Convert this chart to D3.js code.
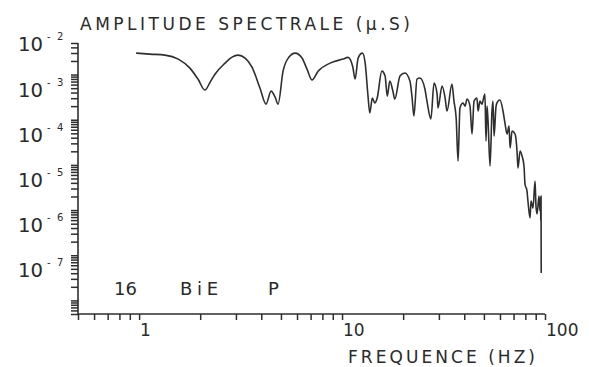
<!DOCTYPE html>
<html>
<head>
<meta charset="utf-8">
<script src="https://cdn.jsdelivr.net/npm/d3@7"></script>
<style>
  html, body { margin: 0; padding: 0; background: #fff; }
  svg { display: block; }
  text { font-family: "DejaVu Sans", sans-serif; fill: #2a2a2a; }
</style>
</head>
<body>
<svg id="chart" width="589" height="367"></svg>
<script>
// ---- data ----
const frequencyHz = [
  0.967, 1.13, 1.34, 1.56, 1.78, 1.95, 2.11, 2.24, 2.37, 2.65, 2.87, 3.07, 3.33, 3.60, 3.94,
  4.22, 4.47, 4.68, 4.84, 5.12, 5.48, 5.87, 6.35, 6.72, 7.11, 7.62, 8.73, 10.1, 10.7, 11.3,
  11.6, 12.0, 12.6, 13.0, 13.4, 13.7, 14.1, 14.5, 14.9, 15.7, 16.3, 16.7, 17.2, 17.8, 18.2,
  19.3, 20.4, 21.6, 22.1, 22.6, 23.4, 24.2, 25.6, 26.2, 27.4, 28.4, 29.4, 29.7, 31.1, 32.2,
  32.9, 34.8, 35.6, 36.5, 37.3, 38.1, 39.5, 40.4, 41.3, 42.7, 43.7, 44.7, 46.2, 46.8, 47.8,
  48.9, 50.1, 50.6, 51.2, 51.8, 52.4, 53.6, 54.8, 55.4, 56.1, 57.4, 58.7, 60.0, 62.1, 63.5,
  65.0, 66.5, 67.3, 68.8, 71.2, 72.8, 73.6, 75.4, 77.1, 78.8, 79.7, 81.5, 82.4, 84.4, 85.3,
  87.3, 89.3, 90.3, 91.4, 93.4, 94.5, 95.0, 95.3, 95.6, 95.8
];
const amplitude = [
  2.99e-3, 2.84e-3, 2.70e-3, 2.20e-3, 1.39e-3, 7.95e-4, 4.54e-4, 6.82e-4, 1.03e-3, 1.79e-3, 2.44e-3, 2.70e-3, 2.32e-3, 1.47e-3, 5.03e-4,
  2.22e-4, 4.31e-4, 3.18e-4, 2.22e-4, 1.19e-3, 2.44e-3, 2.99e-3, 2.32e-3, 1.32e-3, 7.56e-4, 1.19e-3, 1.79e-3, 2.20e-3, 2.40e-3, 1.47e-3,
  7.95e-4, 2.32e-3, 2.99e-3, 1.79e-3, 3.70e-4, 1.41e-4, 3.02e-4, 2.34e-4, 3.02e-4, 1.19e-3, 9.27e-4, 3.34e-4, 7.18e-4, 4.31e-4, 2.87e-4,
  9.27e-4, 1.08e-3, 7.18e-4, 3.34e-4, 1.21e-4, 7.95e-4, 8.37e-4, 4.78e-4, 2.59e-4, 1.04e-4, 6.48e-4, 3.70e-4, 1.82e-4, 5.57e-4, 3.02e-4,
  1.56e-4, 6.16e-4, 2.59e-4, 1.09e-4, 1.22e-5, 1.82e-4, 2.34e-4, 2.01e-4, 2.87e-4, 2.01e-4, 4.83e-5, 2.59e-4, 3.02e-4, 1.56e-4, 2.59e-4,
  2.22e-4, 3.34e-4, 3.70e-4, 3.38e-5, 2.01e-4, 9.36e-5, 9.46e-6, 1.56e-4, 2.59e-4, 4.36e-5, 2.01e-4, 2.59e-4, 2.73e-4, 1.56e-4, 8.45e-5,
  4.83e-5, 7.26e-5, 2.37e-5, 5.62e-5, 4.83e-5, 2.03e-5, 8.53e-6, 2.03e-5, 1.57e-5, 9.46e-6, 3.78e-6, 2.65e-6, 1.59e-6, 6.68e-7, 1.59e-6,
  1.11e-6, 4.40e-6, 1.20e-6, 8.20e-7, 2.05e-6, 9.50e-7, 1.90e-6, 5.74e-7, 2.05e-6, 4.06e-8
];
const xDomain = [0.5, 100];
const yDomain = [5e-9, 5e-3];
const xMajorTicks = [1, 10, 100];
const xTickLabels = ["1", "10", "100"];
const yMajorExponents = [-2, -3, -4, -5, -6, -7];
const title = "AMPLITUDE SPECTRALE (\u03BC.S)";
const xTitle = "FREQUENCE  (HZ)";
const stationLabels = ["16", "BiE", "P"];

// ---- drawing ----
(function () {
const svg = d3.select("#chart");
const ink = "#2e2e2e";
const mLeft = 78, mRight = 545, mTop = 43, mBottom = 314;

const x = d3.scaleLog().domain(xDomain).range([mLeft, mRight]);
const y = d3.scaleLog().domain(yDomain).range([mBottom, mTop]);

const xTicks = [];
for (let d = -1; d <= 1; d++) for (let m = 1; m <= 9; m++) {
  const v = m * Math.pow(10, d);
  if (v >= xDomain[0] - 1e-9 && v <= xDomain[1] + 1e-9) xTicks.push(v);
}
xTicks.push(100);
const yTicks = [];
for (let d = -9; d <= -3; d++) for (let m = 1; m <= 9; m++) {
  const v = m * Math.pow(10, d);
  if (v >= yDomain[0] * 0.999 && v <= yDomain[1] * 1.001) yTicks.push(v);
}

const xAxis = d3.axisBottom(x).tickValues(xTicks).tickSize(6).tickFormat("");
const gx = svg.append("g").attr("transform", `translate(0,${mBottom})`).call(xAxis);
const yAxis = d3.axisLeft(y).tickValues(yTicks).tickSize(7).tickFormat("");
const gy = svg.append("g").attr("transform", `translate(${mLeft},0)`).call(yAxis);
[gx, gy].forEach(g => {
  g.select(".domain").attr("stroke", ink).attr("stroke-width", 1.6);
  g.selectAll(".tick line").attr("stroke", ink).attr("stroke-width", 1.5);
});
gx.select(".domain").attr("d", `M${mLeft},0H${mRight}`);
gy.select(".domain").attr("d", `M0,${mTop}V${mBottom}`);

xMajorTicks.forEach((v, i) => {
  svg.append("text").attr("x", x(v) + 1).attr("y", 336)
    .attr("font-size", 17).text(xTickLabels[i]);
});

yMajorExponents.forEach(e => {
  const base = y(Math.pow(10, e)) + 22;
  svg.append("text").attr("x", 18).attr("y", base).attr("font-size", 20)
    .attr("textLength", 25).attr("lengthAdjust", "spacingAndGlyphs").text("10");
  svg.append("text").attr("x", 47).attr("y", base - 11).attr("font-size", 10).text("-");
  svg.append("text").attr("x", 57).attr("y", base - 11).attr("font-size", 10).text(String(-e));
});

svg.append("text").attr("x", 80).attr("y", 30).attr("font-size", 17)
  .attr("textLength", 330).attr("lengthAdjust", "spacing").text(title);
svg.append("text").attr("x", 348).attr("y", 363).attr("font-size", 17)
  .attr("textLength", 187).attr("lengthAdjust", "spacing").text(xTitle);

const labelX = [114, 180, 268];
const labelW = [23, 38, 12];
stationLabels.forEach((t, i) => {
  svg.append("text").attr("x", labelX[i]).attr("y", 295).attr("font-size", 18)
    .attr("textLength", labelW[i]).attr("lengthAdjust", "spacing").text(t);
});

const pts = frequencyHz.map((f, i) => [f, amplitude[i]]);
svg.append("path").datum(pts)
  .attr("fill", "none").attr("stroke", ink).attr("stroke-width", 1.6)
  .attr("stroke-linejoin", "round")
  .attr("d", d3.line().curve(d3.curveMonotoneX).x(d => x(d[0])).y(d => y(d[1])));
})();
</script>
</body>
</html>
